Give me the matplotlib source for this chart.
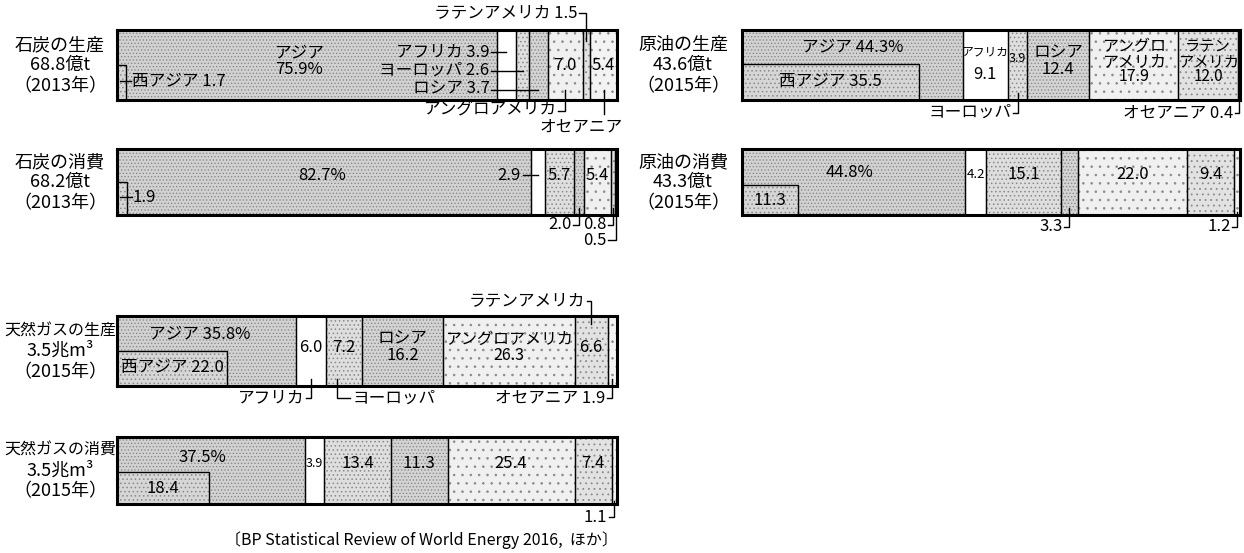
import matplotlib
matplotlib.use("Agg")
import matplotlib.pyplot as plt
import numpy as np

plt.rcParams['font.family'] = ['Noto Sans CJK JP', 'DejaVu Sans']
plt.rcParams['hatch.linewidth'] = 0.6

# ---------------- data ----------------
regions = ['アジア', 'アフリカ', 'ヨーロッパ', 'ロシア', 'アングロアメリカ', 'ラテンアメリカ', 'オセアニア']

coal_prod = [75.9, 3.9, 2.6, 3.7, 7.0, 1.5, 5.4]
coal_prod_west = 1.7
coal_cons = [82.7, 2.9, 5.7, 2.0, 5.4, 0.8, 0.5]
coal_cons_west = 1.9
oil_prod = [44.3, 9.1, 3.9, 12.4, 17.9, 12.0, 0.4]
oil_prod_west = 35.5
oil_cons = [44.8, 4.2, 15.1, 3.3, 22.0, 9.4, 1.2]
oil_cons_west = 11.3
gas_prod = [35.8, 6.0, 7.2, 16.2, 26.3, 6.6, 1.9]
gas_prod_west = 22.0
gas_cons = [37.5, 3.9, 13.4, 11.3, 25.4, 7.4, 1.1]
gas_cons_west = 18.4

titles = ['石炭の生産', '石炭の消費', '原油の生産', '原油の消費', '天然ガスの生産', '天然ガスの消費']
totals = ['68.8億t', '68.2億t', '43.6億t', '43.3億t', '3.5兆m³', '3.5兆m³']
years = ['（2013年）', '（2013年）', '（2015年）', '（2015年）', '（2015年）', '（2015年）']
source = '〔BP Statistical Review of World Energy 2016,  ほか〕'

# ---------------- style ----------------
W, H = 1244, 553
fig = plt.figure(figsize=(W / 100, H / 100), dpi=100)
colors = ['#d2d2d2', '#ffffff', '#dedede', '#d4d4d4', '#f0f0f0', '#e2e2e2', '#f3f3f3']
hatches = ['.....', '', '....', '.....', '..', '...', '..']
west_color = '#d6d6d6'
FS = 12


def fmt(v):
    return f'{v:.1f}'


def add_panel(x0, x1, top, bottom, values, west, west_h, title, total, year, tx, ft=13):
    ax = fig.add_axes([x0 / W, 1 - bottom / H, (x1 - x0) / W, (bottom - top) / H])
    lefts = np.concatenate([[0], np.cumsum(values)[:-1]])
    ax.barh(0.5, values, left=lefts, height=1.0, color=colors, linewidth=0)
    ax.barh(0.5, values, left=lefts, height=1.0, color='none',
            edgecolor='#8a8a8a', hatch=hatches, linewidth=0)
    ax.barh(0.5, values, left=lefts, height=1.0, color='none',
            edgecolor='black', linewidth=0.9)
    ax.barh(west_h / 2, west, left=0, height=west_h, color=west_color, linewidth=0)
    ax.barh(west_h / 2, west, left=0, height=west_h, color='none',
            edgecolor='#8a8a8a', hatch='....', linewidth=0)
    ax.barh(west_h / 2, west, left=0, height=west_h, color='none',
            edgecolor='black', linewidth=1.0)
    ax.set_xlim(0, 100)
    ax.set_ylim(0, 1)
    ax.set_xticks([])
    ax.set_yticks([])
    for s in ax.spines.values():
        s.set_linewidth(2.2)
        s.set_zorder(5)
    cy = (top + bottom) / 2
    for dy, t, f in zip((-20, 0, 21), (title, total, year), (ft, 13, 13)):
        fig.text(tx / W, 1 - (cy + dy) / H, t, ha='center', va='center', fontsize=f)
    mids = lefts + np.array(values) / 2
    return ax, lefts, mids


def txt(ax, x, y, s, ha='center', fs=FS, ls=1.0):
    ax.text(x, y, s, ha=ha, va='center', fontsize=fs, clip_on=False,
            linespacing=ls, zorder=6)


def line(ax, xs, ys):
    ax.plot(xs, ys, color='black', lw=1.0, clip_on=False, zorder=6,
            solid_joinstyle='miter')


# ---- coal production ----
ax, L, M = add_panel(117, 617, 30, 100, coal_prod, coal_prod_west, 0.5,
                     titles[0], totals[0], years[0], 60)
txt(ax, 36.5, 0.55, f'{regions[0]}\n{fmt(coal_prod[0])}%')
txt(ax, coal_prod_west + 1.3, 0.27, f'西アジア {fmt(coal_prod_west)}', ha='left')
line(ax, [0.5, coal_prod_west + 1.0], [0.27, 0.27])
for i, yy in zip((1, 2, 3), (0.69, 0.42, 0.15)):
    txt(ax, 74.5, yy, f'{regions[i]} {fmt(coal_prod[i])}', ha='right')
    line(ax, [74.8, M[i]], [yy, yy])
txt(ax, M[4], 0.5, fmt(coal_prod[4]))
txt(ax, M[6], 0.5, fmt(coal_prod[6]))
txt(ax, 92.0, 1.25, f'{regions[5]} {fmt(coal_prod[5])}', ha='right')
line(ax, [92.3, M[5], M[5]], [1.25, 1.25, 0.85])
line(ax, [M[4], M[4], 88.2], [0.15, -0.15, -0.15])
txt(ax, 88.0, -0.15, regions[4], ha='right')
line(ax, [M[6], M[6]], [0.15, -0.2])
txt(ax, 92.8, -0.38, regions[6])

# ---- coal consumption ----
ax, L, M = add_panel(117, 617, 149, 215, coal_cons, coal_cons_west, 0.5,
                     titles[1], totals[1], years[1], 60)
txt(ax, 41, 0.6, f'{fmt(coal_cons[0])}%')
txt(ax, coal_cons_west + 1.3, 0.27, fmt(coal_cons_west), ha='left')
line(ax, [0.5, coal_cons_west + 1.0], [0.27, 0.27])
txt(ax, 80.8, 0.6, fmt(coal_cons[1]), ha='right')
line(ax, [81.1, M[1]], [0.6, 0.6])
txt(ax, M[2], 0.6, fmt(coal_cons[2]))
txt(ax, M[4], 0.6, fmt(coal_cons[4]))
line(ax, [M[3], M[3], 91.2], [0.1, -0.15, -0.15])
txt(ax, 91.0, -0.15, fmt(coal_cons[3]), ha='right')
line(ax, [M[5], M[5], 98.2], [0.1, -0.15, -0.15])
txt(ax, 97.9, -0.15, fmt(coal_cons[5]), ha='right')
line(ax, [M[6], M[6], 98.2], [0.05, -0.38, -0.38])
txt(ax, 97.9, -0.38, fmt(coal_cons[6]), ha='right')

# ---- oil production ----
ax, L, M = add_panel(742, 1240, 30, 100, oil_prod, oil_prod_west, 0.52,
                     titles[2], totals[2], years[2], 683)
txt(ax, M[0], 0.76, f'{regions[0]} {fmt(oil_prod[0])}%')
txt(ax, oil_prod_west / 2, 0.26, f'西アジア {fmt(oil_prod_west)}')
ax.text(M[1], 0.68, regions[1], ha='center', va='center', fontsize=8.5, zorder=6)
txt(ax, M[1], 0.36, fmt(oil_prod[1]))
txt(ax, M[2], 0.6, fmt(oil_prod[2]), fs=9)
txt(ax, M[3], 0.55, f'{regions[3]}\n{fmt(oil_prod[3])}', ls=0.95)
txt(ax, M[4], 0.55, f'アングロ\nアメリカ\n{fmt(oil_prod[4])}', fs=11.5, ls=0.85)
txt(ax, M[5], 0.55, f'ラテン\nアメリカ\n{fmt(oil_prod[5])}', fs=11, ls=0.88)
line(ax, [M[2], M[2], 54.4], [0.1, -0.18, -0.18])
txt(ax, 54.1, -0.18, regions[2], ha='right')
line(ax, [M[6], M[6], 98.9], [0.1, -0.18, -0.18])
txt(ax, 98.6, -0.18, f'{regions[6]} {fmt(oil_prod[6])}', ha='right')

# ---- oil consumption ----
ax, L, M = add_panel(742, 1240, 149, 215, oil_cons, oil_cons_west, 0.45,
                     titles[3], totals[3], years[3], 683)
txt(ax, oil_cons_west / 2, 0.22, fmt(oil_cons_west))
txt(ax, 21.5, 0.65, f'{fmt(oil_cons[0])}%')
txt(ax, M[1], 0.62, fmt(oil_cons[1]), fs=9.5)
txt(ax, M[2], 0.62, fmt(oil_cons[2]))
txt(ax, M[4], 0.62, fmt(oil_cons[4]))
txt(ax, M[5], 0.62, fmt(oil_cons[5]))
line(ax, [M[3], M[3], 64.7], [0.1, -0.18, -0.18])
txt(ax, 64.4, -0.18, fmt(oil_cons[3]), ha='right')
line(ax, [M[6], M[6], 98.4], [0.05, -0.18, -0.18])
txt(ax, 98.1, -0.18, fmt(oil_cons[6]), ha='right')

# ---- gas production ----
ax, L, M = add_panel(117, 617, 316, 386, gas_prod, gas_prod_west, 0.5,
                     titles[4], totals[4], years[4], 60, ft=11.5)
txt(ax, 16.5, 0.74, f'{regions[0]} {fmt(gas_prod[0])}%')
txt(ax, gas_prod_west / 2, 0.26, f'西アジア {fmt(gas_prod_west)}')
txt(ax, M[1], 0.55, fmt(gas_prod[1]))
txt(ax, M[2], 0.55, fmt(gas_prod[2]))
txt(ax, M[3], 0.55, f'{regions[3]}\n{fmt(gas_prod[3])}', ls=0.95)
txt(ax, M[4], 0.55, f'{regions[4]}\n{fmt(gas_prod[4])}', fs=11.5, ls=0.95)
txt(ax, M[5], 0.55, fmt(gas_prod[5]))
txt(ax, 93.6, 1.22, regions[5], ha='right')
line(ax, [93.9, M[5], M[5]], [1.22, 1.22, 0.88])
line(ax, [M[1], M[1], 37.8], [0.1, -0.17, -0.17])
txt(ax, 37.5, -0.17, regions[1], ha='right')
line(ax, [L[2] + 2.2, L[2] + 2.2, 46.6], [0.1, -0.17, -0.17])
txt(ax, 47.0, -0.17, regions[2], ha='left')
line(ax, [M[6], M[6], 98.0], [0.1, -0.17, -0.17])
txt(ax, 97.7, -0.17, f'{regions[6]} {fmt(gas_prod[6])}', ha='right')

# ---- gas consumption ----
ax, L, M = add_panel(117, 617, 437, 504, gas_cons, gas_cons_west, 0.48,
                     titles[5], totals[5], years[5], 60, ft=11.5)
txt(ax, 17, 0.7, f'{fmt(gas_cons[0])}%')
txt(ax, gas_cons_west / 2, 0.23, fmt(gas_cons_west))
txt(ax, M[1], 0.6, fmt(gas_cons[1]), fs=9)
for i in (2, 3, 4, 5):
    txt(ax, M[i], 0.6, fmt(gas_cons[i]))
line(ax, [M[6], M[6], 98.3], [0.05, -0.2, -0.2])
txt(ax, 98.0, -0.2, fmt(gas_cons[6]), ha='right')

fig.text(618 / W, 1 - 540 / H, source, ha='right', va='center', fontsize=11.5)

fig.savefig('out.png', dpi=100)
